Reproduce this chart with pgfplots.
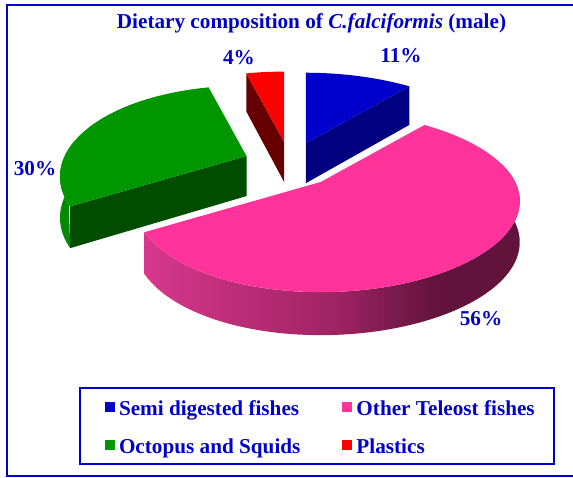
\documentclass[border=0pt]{standalone}
\usepackage{pgfplots}
\pgfplotsset{compat=1.18}
\usepackage{pgfplotstable}
\usepackage{fontspec}
\setmainfont{Liberation Serif}

\definecolor{tblue}{RGB}{0,0,204}
\definecolor{frameblue}{RGB}{0,0,210}
\definecolor{blueTop}{RGB}{0,0,204}
\definecolor{blueSide}{RGB}{0,0,128}
\definecolor{redTop}{RGB}{255,0,0}
\definecolor{redSide}{RGB}{102,0,0}
\definecolor{greenTop}{RGB}{0,150,0}
\definecolor{greenCurve}{RGB}{0,140,0}
\definecolor{greenSide}{RGB}{0,77,0}
\definecolor{pinkTop}{RGB}{255,51,153}
\definecolor{pinkL}{RGB}{215,55,140}
\definecolor{pinkM}{RGB}{160,36,100}
\definecolor{pinkD}{RGB}{98,19,60}

\pgfdeclarehorizontalshading{pinkside}{100bp}{color(0bp)=(pinkL); color(25bp)=(pinkL); color(50bp)=(pinkM); color(64bp)=(pinkD); color(100bp)=(pinkD)}

\newcommand\bigfont{\fontsize{21.2}{25}\selectfont\bfseries}

\pgfplotstableread{
item value
Semi 11
Teleost 56
Octopus 30
Plastics 4
}\diet

\newcommand\apex[3]{\pgfmathsetmacro#1{290+47*cos(#3)}\pgfmathsetmacro#2{164.7-22.8*sin(#3)}}
\newcommand\pX[3]{\pgfmathsetmacro#1{#2+188*(1+0.033*cos(#3))*cos(#3)/(1+0.22*sin(#3))}}
\newcommand\pY[3]{\pgfmathsetmacro#1{#2-86*sin(#3)/(1+0.22*sin(#3))}}
\newcommand\pH[2]{\pgfmathsetmacro#1{40.5-2.5*sin(#2)}}

\begin{document}%
\begin{tikzpicture}
\pgfplotstablegetelem{0}{value}\of\diet \edef\vA{\pgfplotsretval}
\pgfplotstablegetelem{1}{value}\of\diet \edef\vB{\pgfplotsretval}
\pgfplotstablegetelem{2}{value}\of\diet \edef\vC{\pgfplotsretval}
\pgfplotstablegetelem{3}{value}\of\diet \edef\vD{\pgfplotsretval}
\pgfmathsetmacro\vT{\vA+\vB+\vC+\vD}
\pgfmathsetmacro\tA{90}
\pgfmathsetmacro\tB{\tA-(\vA/\vT)*360}
\pgfmathsetmacro\tC{\tB-(\vB/\vT)*360}
\pgfmathsetmacro\tCp{\tC+360}
\pgfmathsetmacro\tD{\tCp-(\vC/\vT)*360}
\apex\xA\yA{(\tA+\tB)/2}
\apex\xB\yB{(\tB+\tC)/2}
\apex\xC\yC{(\tCp+\tD)/2}
\apex\xD\yD{(90+\tD)/2}
\pgfmathsetmacro\yAb{\yA+40}
\pgfmathsetmacro\yCb{\yC+40}
\pgfmathsetmacro\yDb{\yD+40}
\pX\bxo\xA\tB \pY\byo\yA\tB \pH\bh\tB \pgfmathsetmacro\byb{\byo+\bh}
\pX\rxo\xD\tD \pY\ryo\yD\tD \pH\rh\tD \pgfmathsetmacro\ryb{\ryo+\rh}
\pX\gxo\xC\tCp \pY\gyo\yC\tCp \pH\gh\tCp \pgfmathsetmacro\gyb{\gyo+\gh}
\begin{axis}[
 scale only axis, width=573pt, height=477pt,
 xmin=0, xmax=573, ymin=0, ymax=477, y dir=reverse, hide axis, clip=false,
 declare function={
  PX(\Xa,\Ta)=\Xa+188*(1+0.033*cos(\Ta))*cos(\Ta)/(1+0.22*sin(\Ta));
  PY(\Ya,\Ta)=\Ya-86*sin(\Ta)/(1+0.22*sin(\Ta));
  HH(\Ta)=40.5-2.5*sin(\Ta);
  TT(\Sa,\Pa,\Qa)=(\Sa<1)*(\Pa+(\Qa-\Pa)*\Sa)+(\Sa>=1)*(\Qa-(\Qa-\Pa)*(\Sa-1));
 },
 legend columns=2, legend cell align=left,
 legend image code/.code={\path (-6pt,0pt); \fill[#1] (0pt,-5pt) rectangle (10pt,5pt);},
 legend style={at={(axis cs:80,388)}, anchor=north west, draw=tblue, line width=2pt,
   outer sep=0pt, inner xsep=19pt, inner ysep=7pt, row sep=14pt, column sep=4pt,
   /tikz/every even column/.append style={column sep=36pt},
   font=\bigfont, text=tblue, nodes={inner sep=0pt, text height=20pt, text depth=4pt}},
]
\addlegendimage{fill=blueTop,draw=none}\addlegendentry{Semi digested fishes}
\addlegendimage{fill=pinkTop,draw=none}\addlegendentry{Other Teleost fishes}
\addlegendimage{fill=greenTop,draw=none}\addlegendentry{Octopus and Squids}
\addlegendimage{fill=redTop,draw=none}\addlegendentry{Plastics}

% Blue slice
\addplot[forget plot, fill=blueSide, draw=none] coordinates {(\xA,\yA) (\bxo,\byo) (\bxo,\byb) (\xA,\yAb)} -- cycle;
\addplot[forget plot, fill=blueTop, draw=none, domain=\tB:\tA, samples=50, variable=\Tv] ({PX(\xA,\Tv)},{PY(\yA,\Tv)}) -- (axis cs:\xA,\yA) -- cycle;
% Red slice
\addplot[forget plot, fill=redSide, draw=none] coordinates {(\xD,\yD) (\rxo,\ryo) (\rxo,\ryb) (\xD,\yDb)} -- cycle;
\addplot[forget plot, fill=redTop, draw=none, domain=90:\tD, samples=20, variable=\Tv] ({PX(\xD,\Tv)},{PY(\yD,\Tv)}) -- (axis cs:\xD,\yD) -- cycle;
% Green slice
\addplot[forget plot, fill=greenSide, draw=none] coordinates {(\xC,\yC) (\gxo,\gyo) (\gxo,\gyb) (\xC,\yCb)} -- cycle;
\addplot[forget plot, fill=greenCurve, draw=none, domain=0:2, samples=81, variable=\Sv] ({PX(\xC,TT(\Sv,170,\tCp))},{PY(\yC,TT(\Sv,170,\tCp))+(\Sv>=1)*HH(TT(\Sv,170,\tCp))}) -- cycle;
\addplot[forget plot, fill=greenTop, draw=none, domain=\tD:\tCp, samples=80, variable=\Tv] ({PX(\xC,\Tv)},{PY(\yC,\Tv)}) -- (axis cs:\xC,\yC) -- cycle;
% Pink slice
\addplot[forget plot, draw=none, shade, shading=pinkside, domain=0:2, samples=201, variable=\Sv] ({PX(\xB,TT(\Sv,\tC,15))},{PY(\yB,TT(\Sv,\tC,15))+(\Sv>=1)*HH(TT(\Sv,\tC,15))}) -- cycle;
\addplot[forget plot, fill=pinkTop, draw=none, domain=\tC:\tB, samples=140, variable=\Tv] ({PX(\xB,\Tv)},{PY(\yB,\Tv)}) -- (axis cs:\xB,\yB) -- cycle;

% texts
\node[font=\bigfont, text=tblue, anchor=base, inner sep=0pt] at (axis cs:311.5,28) {Dietary composition of \textit{C.falciformis} (male)};
\node[font=\bigfont, text=tblue, anchor=base, inner sep=0pt] at (axis cs:401,62) {11\%};
\node[font=\bigfont, text=tblue, anchor=base, inner sep=0pt] at (axis cs:239,64) {4\%};
\node[font=\bigfont, text=tblue, anchor=base, inner sep=0pt] at (axis cs:35,175) {30\%};
\node[font=\bigfont, text=tblue, anchor=base, inner sep=0pt] at (axis cs:481,325) {56\%};
% frame (open on the right, as in the reference)
\draw[frameblue, line width=1.5pt] (axis cs:578,5) -- (axis cs:7,5) -- (axis cs:7,475.9) -- (axis cs:578,475.9);
\end{axis}
\pgfresetboundingbox
\path (current axis.south west) rectangle (current axis.north east);
\end{tikzpicture}%
\end{document}
